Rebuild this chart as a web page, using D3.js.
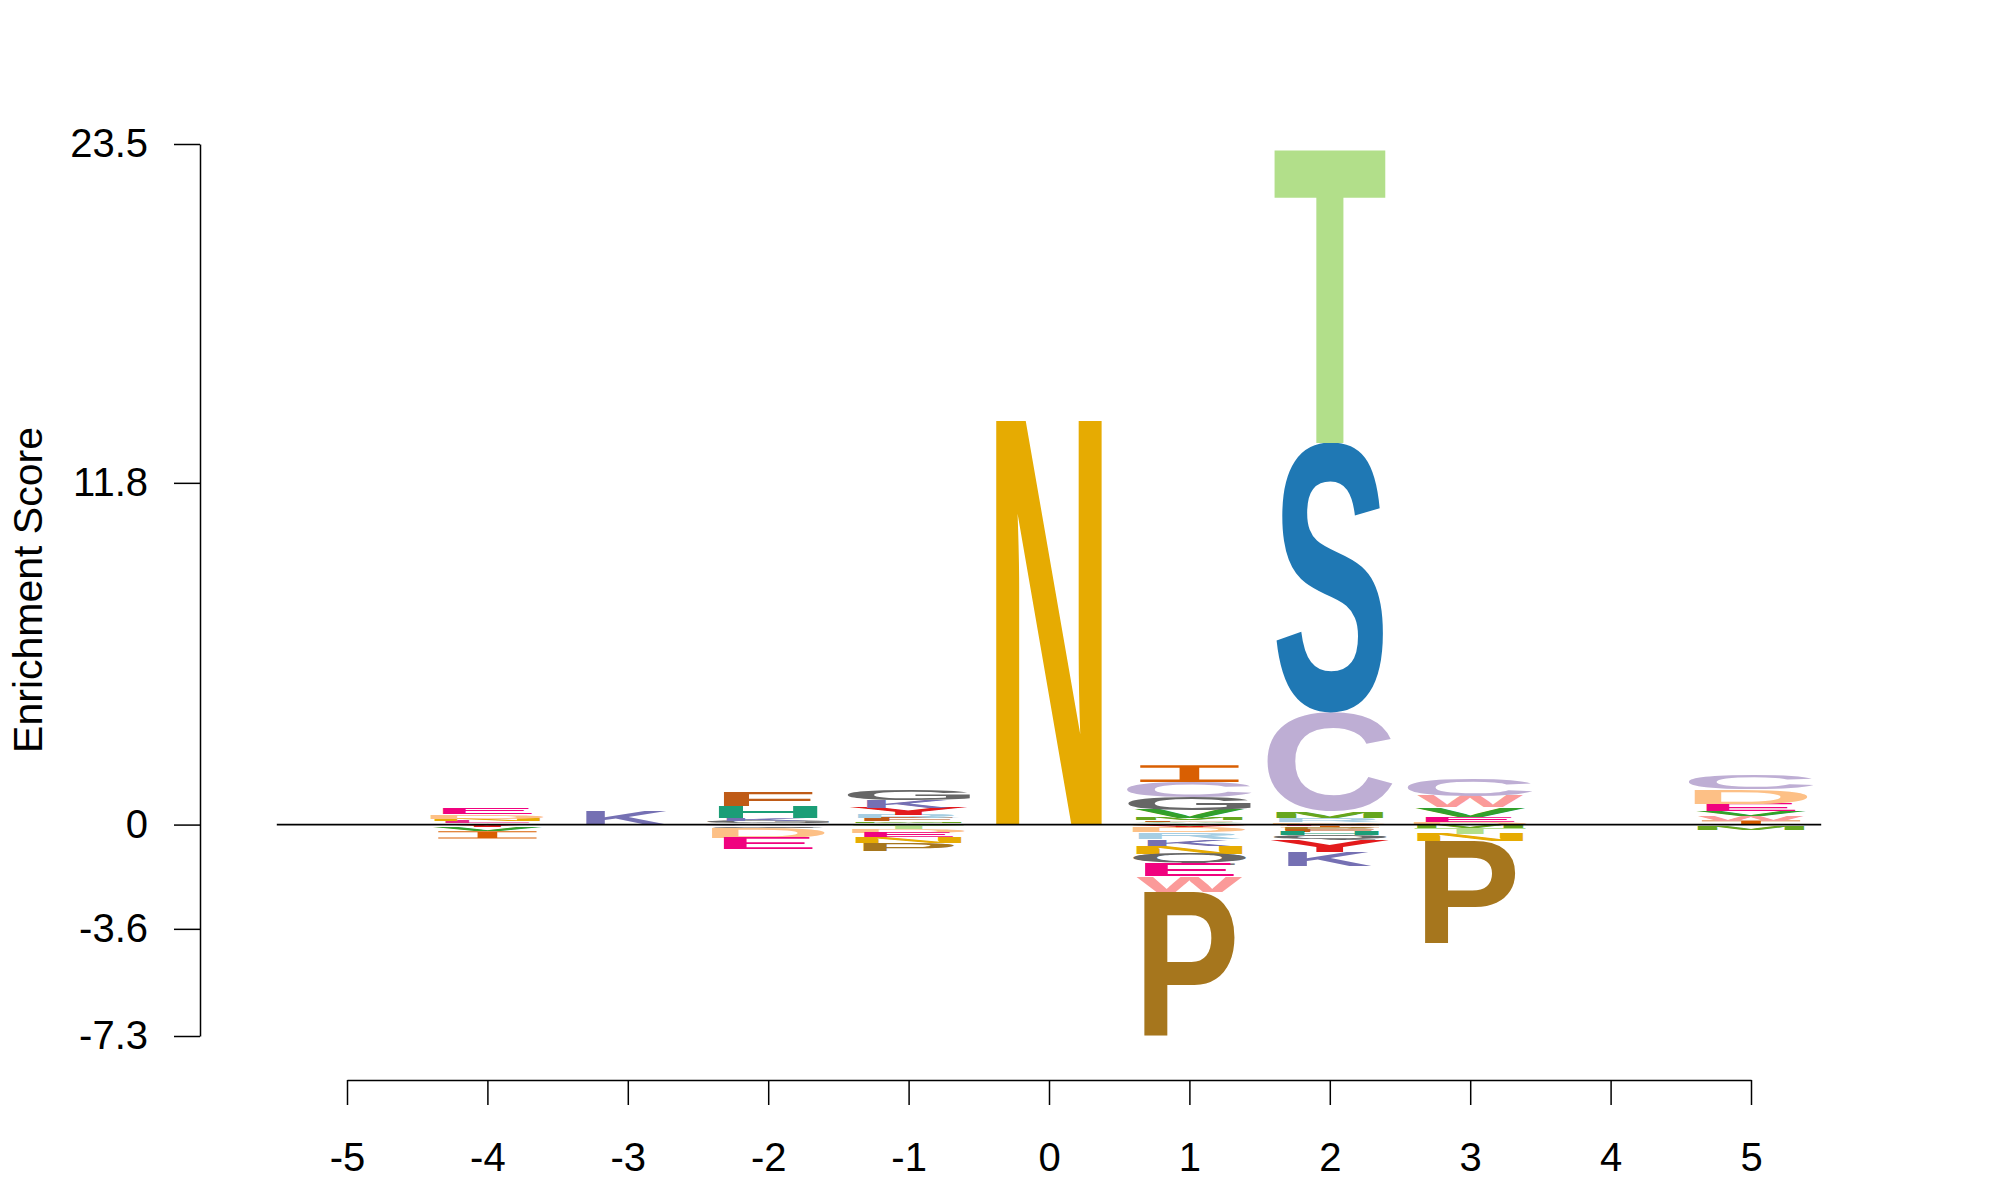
<!DOCTYPE html>
<html>
<head>
<meta charset="utf-8">
<script src="https://cdn.jsdelivr.net/npm/d3@7"></script>
<style>
  html, body { margin: 0; padding: 0; background: #fff; }
  svg { display: block; font-family: "Liberation Sans", Arial, Helvetica, sans-serif; }
</style>
</head>
<body>
<svg id="chart"></svg>
<script>
// peptide positions relative to the anchor residue
const positions = [-5, -4, -3, -2, -1, 0, 1, 2, 3, 4, 5];
const yTickValues = [-7.3, -3.6, 0, 11.8, 23.5];

// enrichment scores per position: [residue, score]
const posM5 = [];
const posM4 = [["A", 0.04], ["L", 0.07], ["N", 0.10], ["D", 0.14], ["E", 0.20],
               ["Y", -0.08], ["V", -0.15], ["I", -0.25]];
const posM3 = [["K", 0.46]];
const posM2 = [["R", 0.04], ["G", 0.09], ["K", 0.10], ["H", 0.40], ["F", 0.48],
               ["C", -0.05], ["Q", -0.07], ["D", -0.36], ["E", -0.38]];
const posM1 = [["A", 0.05], ["M", 0.06], ["F", 0.11], ["R", 0.12], ["Y", 0.24], ["K", 0.25], ["G", 0.34],
               ["V", -0.05], ["T", -0.11], ["D", -0.125], ["E", -0.16], ["N", -0.20], ["P", -0.25]];
const pos0 = [["N", 13.93]];
const pos1 = [["L", 0.04], ["A", 0.05], ["F", 0.06], ["M", 0.08], ["V", 0.28], ["G", 0.44], ["C", 0.52], ["I", 0.58],
              ["T", -0.05], ["Y", -0.06], ["D", -0.155], ["R", -0.23], ["K", -0.23], ["N", -0.28],
              ["Q", -0.37], ["E", -0.415], ["W", -0.54], ["P", -4.92]];
const pos2 = [["N", 0.03], ["D", 0.05], ["R", 0.14], ["M", 0.23], ["C", 3.42], ["S", 9.31], ["T", 10.09],
              ["L", -0.04], ["I", -0.05], ["P", -0.08], ["F", -0.09], ["H", -0.11], ["Q", -0.17], ["Y", -0.40], ["K", -0.49]];
const pos3 = [["D", 0.10], ["E", 0.17], ["V", 0.32], ["W", 0.40], ["C", 0.58],
              ["M", -0.11], ["T", -0.21], ["N", -0.256], ["P", -3.525]];
const pos4 = [];
const pos5 = [["I", 0.14], ["W", 0.15], ["V", 0.17], ["E", 0.266], ["D", 0.50], ["C", 0.50],
              ["L", -0.03], ["M", -0.14]];

const stacks = [posM5, posM4, posM3, posM2, posM1, pos0, pos1, pos2, pos3, pos4, pos5];

// residue colours
const residueColors = {
  A: "#7FC97F", C: "#BEAED4", D: "#FDC086", E: "#F0027F", F: "#BF5B17", G: "#666666",
  H: "#1B9E77", I: "#D95F02", K: "#7570B3", L: "#E7298A", M: "#66A61E", N: "#E6AB02",
  P: "#A6761D", Q: "#666666", R: "#A6CEE3", S: "#1F78B4", T: "#B2DF8A", V: "#33A02C",
  W: "#FB9A99", Y: "#E31A1C"
};

// glyph ink width as a share of the column step
const glyphWidth = {
  A: 0.78, C: 0.89, D: 0.80, E: 0.63, F: 0.63, G: 0.87, H: 0.70, I: 0.70, K: 0.59, L: 0.60,
  M: 0.755, N: 0.75, P: 0.64, Q: 0.80, R: 0.72, S: 0.755, T: 0.79, V: 0.78, W: 0.75, Y: 0.84
};

const width = 2000;
const height = 1200;

const svg = d3.select('#chart')
  .attr('width', width)
  .attr('height', height)
  .attr('viewBox', `0 0 ${width} ${height}`);

svg.append('rect').attr('width', width).attr('height', height).attr('fill', '#fff');

const x = d3.scaleLinear().domain([-5, 5]).range([347, 1751]);
const y = d3.scaleLinear().domain([-7.3, 23.5]).range([1036, 144]);
const step = x(1) - x(0);

// glyph ink bounds, found by scanning the pixels of a canvas drawn in the same font
const glyphFontSize = 400;
const glyphFamily = '"Liberation Sans", Arial, Helvetica, sans-serif';
const scanSize = 600, scanX = 50, scanBase = 480;
const scanCanvas = document.createElement('canvas');
scanCanvas.width = scanSize;
scanCanvas.height = scanSize;
const ctx = scanCanvas.getContext('2d', { willReadFrequently: true });
const inkCache = {};
const inkOf = ch => {
  if (inkCache[ch]) return inkCache[ch];
  ctx.clearRect(0, 0, scanSize, scanSize);
  ctx.font = `bold ${glyphFontSize}px ${glyphFamily}`;
  ctx.fillStyle = '#000';
  ctx.fillText(ch, scanX, scanBase);
  const px = ctx.getImageData(0, 0, scanSize, scanSize).data;
  let t0 = scanSize, b0 = -1, l0 = scanSize, r0 = -1;
  for (let yy = 0; yy < scanSize; yy++) {
    for (let xx = 0; xx < scanSize; xx++) {
      if (px[(yy * scanSize + xx) * 4 + 3] > 127) {
        if (yy < t0) t0 = yy;
        if (yy > b0) b0 = yy;
        if (xx < l0) l0 = xx;
        if (xx > r0) r0 = xx;
      }
    }
  }
  const ink = {
    x0: l0 - scanX,
    x1: r0 + 1 - scanX,
    asc: scanBase - t0,
    desc: b0 + 1 - scanBase
  };
  inkCache[ch] = ink;
  return ink;
};

const logo = svg.append('g');

function drawGlyph(ch, cx, yTop, yBottom) {
  const h = yBottom - yTop;
  if (h <= 0) return;
  const color = residueColors[ch];
  const w = glyphWidth[ch] * step;
  if (ch === 'I') {
    // serif I: full-width bars top and bottom, narrow stem
    const bar = h * 0.15;
    const stem = w * 0.2;
    const p = d3.path();
    p.rect(cx - w / 2, yTop, w, bar);
    p.rect(cx - stem / 2, yTop + bar, stem, h - 2 * bar);
    p.rect(cx - w / 2, yBottom - bar, w, bar);
    logo.append('path').attr('d', p.toString()).attr('fill', color);
    return;
  }
  const m = inkOf(ch);
  const kx = w / (m.x1 - m.x0);
  const ky = h / (m.asc + m.desc);
  logo.append('text')
    .attr('font-family', glyphFamily)
    .attr('font-weight', 'bold')
    .attr('font-size', glyphFontSize)
    .attr('fill', color)
    .attr('transform', `translate(${cx},${yBottom}) scale(${kx},${ky}) translate(${-(m.x0 + m.x1) / 2},${-m.desc})`)
    .text(ch);
}

positions.forEach((pos, i) => {
  const cx = x(pos);
  const data = stacks[i];
  const up = data.filter(d => d[1] > 0).sort((a, b) => a[1] - b[1]);
  const down = data.filter(d => d[1] < 0).sort((a, b) => b[1] - a[1]);
  let cum = 0;
  up.forEach(([ch, v]) => {
    drawGlyph(ch, cx, y(cum + v), y(cum));
    cum += v;
  });
  cum = 0;
  down.forEach(([ch, v]) => {
    drawGlyph(ch, cx, y(cum), y(cum + v));
    cum += v;
  });
});

// zero baseline
svg.append('line')
  .attr('x1', x(-5.5)).attr('x2', x(5.5))
  .attr('y1', y(0)).attr('y2', y(0))
  .attr('stroke', '#000')
  .attr('stroke-width', 1.6);

const hyphenFormat = d => String(d);

// y axis
const yAxis = svg.append('g')
  .attr('transform', 'translate(200,0)')
  .call(d3.axisLeft(y).tickValues(yTickValues).tickSize(26).tickSizeOuter(0).tickPadding(26)
    .tickFormat(hyphenFormat));
yAxis.selectAll('path, line').attr('stroke', '#000').attr('stroke-width', 1.5);
yAxis.selectAll('text').attr('font-size', 40).attr('fill', '#000')
  .attr('font-family', '"Liberation Sans", Arial, sans-serif');

// x axis
const xAxis = svg.append('g')
  .attr('transform', 'translate(0,1080)')
  .call(d3.axisBottom(x).tickValues(positions).tickSize(25).tickSizeOuter(0).tickPadding(38)
    .tickFormat(hyphenFormat));
xAxis.selectAll('path, line').attr('stroke', '#000').attr('stroke-width', 1.5);
xAxis.selectAll('text').attr('font-size', 40).attr('fill', '#000')
  .attr('font-family', '"Liberation Sans", Arial, sans-serif');

// y axis title
svg.append('text')
  .attr('transform', 'translate(42,590) rotate(-90)')
  .attr('text-anchor', 'middle')
  .attr('font-size', 41)
  .attr('fill', '#000')
  .text('Enrichment Score');
</script>
</body>
</html>
